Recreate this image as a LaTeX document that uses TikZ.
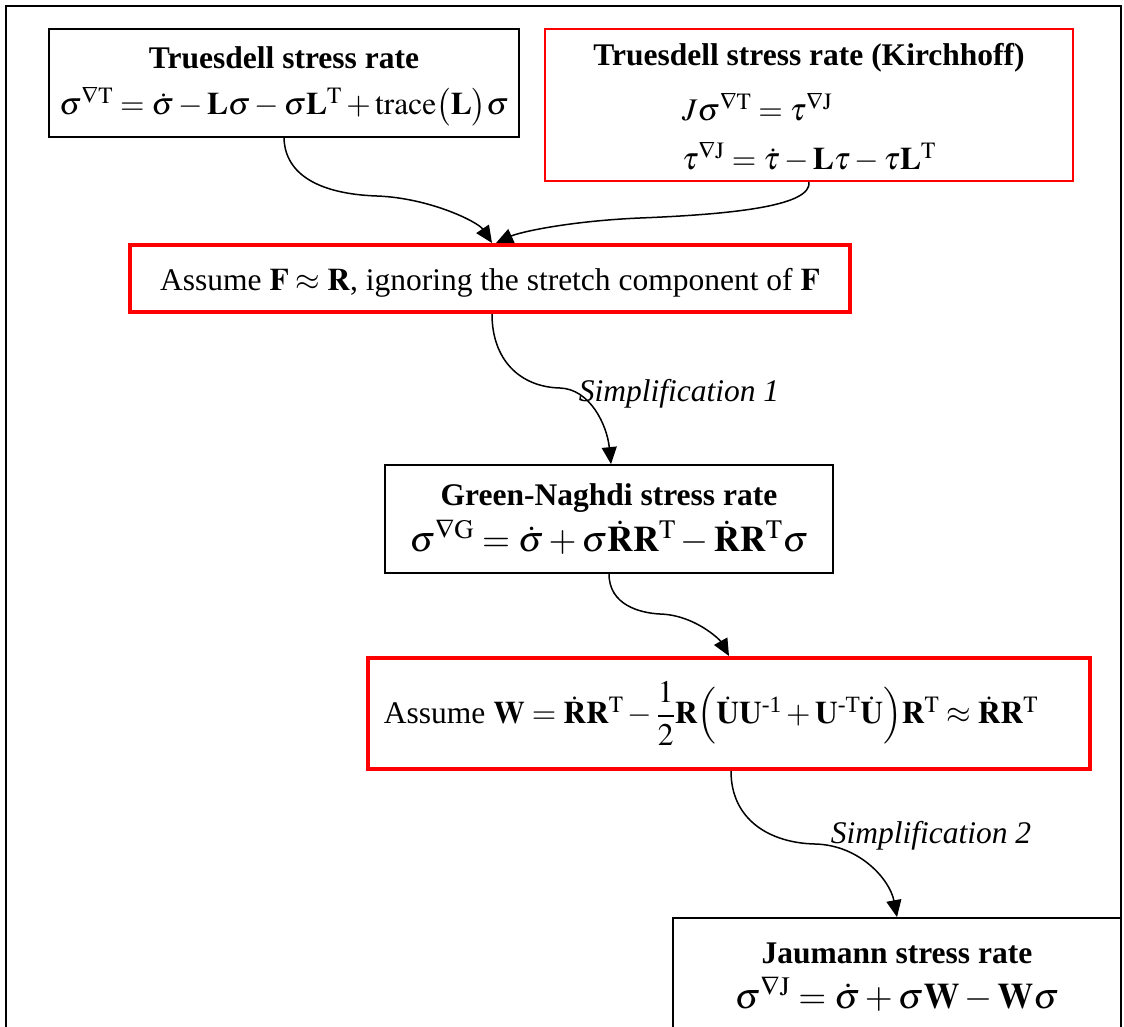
\documentclass[tikz,border=0pt]{standalone}
\usepackage{amsmath}
\usepackage{mathptmx}
\usepackage[no-math]{fontspec}
\setmainfont{Liberation Serif}
\usetikzlibrary{arrows.meta}

% lower a line by #1 without changing the space it takes
\newcommand{\lowerby}[2]{\raisebox{-#1}[\height][\depth]{#2}}

\tikzset{
  base/.style={font=\fontsize{31.5}{40}\selectfont, align=center, inner sep=0pt},
  blackbox/.style={base, draw=black, line width=1.8pt},
  redthin/.style={base, draw=red, line width=1.6pt},
  redthick/.style={base, draw=red, line width=4pt},
  flow/.style={line width=1.5pt, -{Triangle[length=17pt,width=15pt]}},
  simp/.style={base, font=\fontsize{31.5}{40}\selectfont\itshape},
  frame/.style={line width=2pt}
}

\begin{document}
\begin{tikzpicture}[x=1pt,y=-1pt]
\useasboundingbox (0,0) rectangle (1124,1026);

% outer frame (open at the bottom)
\draw[frame] (6,1040) -- (6,6) -- (1121,6) -- (1121,1040);

% stress-rate boxes
\node[blackbox, minimum width=470pt, minimum height=108pt] (b1) at (284,83)
  {\lowerby{2pt}{\textbf{Truesdell stress rate}}\\[3pt]
   \lowerby{5pt}{$\sigma^{\nabla\mathrm{T}} = \dot\sigma - \mathbf{L}\sigma - \sigma\mathbf{L}^{\mathrm{T}} + \mathrm{trace}\bigl(\mathbf{L}\bigr)\sigma$}};

\node[redthin, minimum width=528pt, minimum height=152pt] (b2) at (809,105)
  {\textbf{Truesdell stress rate (Kirchhoff)}\\[4pt]
   \lowerby{15pt}{\begin{tabular}{@{}l@{}}
   $J\sigma^{\nabla\mathrm{T}} = \tau^{\nabla\mathrm{J}}$\\[9pt]
   $\tau^{\nabla\mathrm{J}} = \dot\tau - \mathbf{L}\tau - \tau\mathbf{L}^{\mathrm{T}}$
   \end{tabular}}};

\node[redthick, minimum width=720pt, minimum height=67pt] (b3) at (490,278.5)
  {\lowerby{4pt}{Assume $\mathbf{F}\approx\mathbf{R}$, ignoring the stretch component of $\mathbf{F}$}};

\node[blackbox, minimum width=448pt, minimum height=108pt] (b4) at (609,519)
  {\textbf{Green-Naghdi stress rate}\\[6pt]
   {\fontsize{36}{40}\selectfont $\sigma^{\nabla\mathrm{G}} = \dot\sigma + \sigma\dot{\mathbf{R}}\mathbf{R}^{\mathrm{T}} - \dot{\mathbf{R}}\mathbf{R}^{\mathrm{T}}\sigma$}};

\node[redthick, minimum width=722pt, minimum height=111pt] (b5) at (729,713.5)
  {Assume $\mathbf{W} = \dot{\mathbf{R}}\mathbf{R}^{\mathrm{T}} - \dfrac{1}{2}\mathbf{R}\Bigl(\dot{\mathbf{U}}\mathbf{U}^{\text{-1}} + \mathbf{U}^{\text{-T}}\dot{\mathbf{U}}\Bigr)\mathbf{R}^{\mathrm{T}} \approx \dot{\mathbf{R}}\mathbf{R}^{\mathrm{T}}$\hspace*{36pt}};

\node[blackbox, minimum width=448pt, minimum height=118pt] (b6) at (897,977)
  {\textbf{Jaumann stress rate}\\[5pt]
   {\fontsize{36}{40}\selectfont $\sigma^{\nabla\mathrm{J}} = \dot\sigma + \sigma\mathbf{W} - \mathbf{W}\sigma$}};

% connectors
\draw[flow] (b1.south) .. controls (285,175) and (320,194) .. (377,196)
  .. controls (430,198) and (478,222) .. ([xshift=2pt]b3.north);
\draw[flow] (b2.south) .. controls (812,205) and (740,214) .. (640,218)
  .. controls (570,221) and (520,232) .. ([xshift=6pt]b3.north);
\draw[flow] ([xshift=2pt]b3.south) .. controls (492,360) and (520,387) .. (560,388)
  .. controls (590,389) and (607,425) .. ([xshift=2pt]b4.north);
\draw[flow] (b4.south) .. controls (609,605) and (640,613) .. (660,614)
  .. controls (695,615) and (720,640) .. (b5.north);
\draw[flow] ([xshift=2pt]b5.south) .. controls (731,820) and (770,843) .. (815,844)
  .. controls (860,845) and (890,880) .. (b6.north);

% labels
\node[simp] (s1) at (679,394) {Simplification 1};
\node[simp] (s2) at (931,836) {Simplification 2};
\end{tikzpicture}
\end{document}
